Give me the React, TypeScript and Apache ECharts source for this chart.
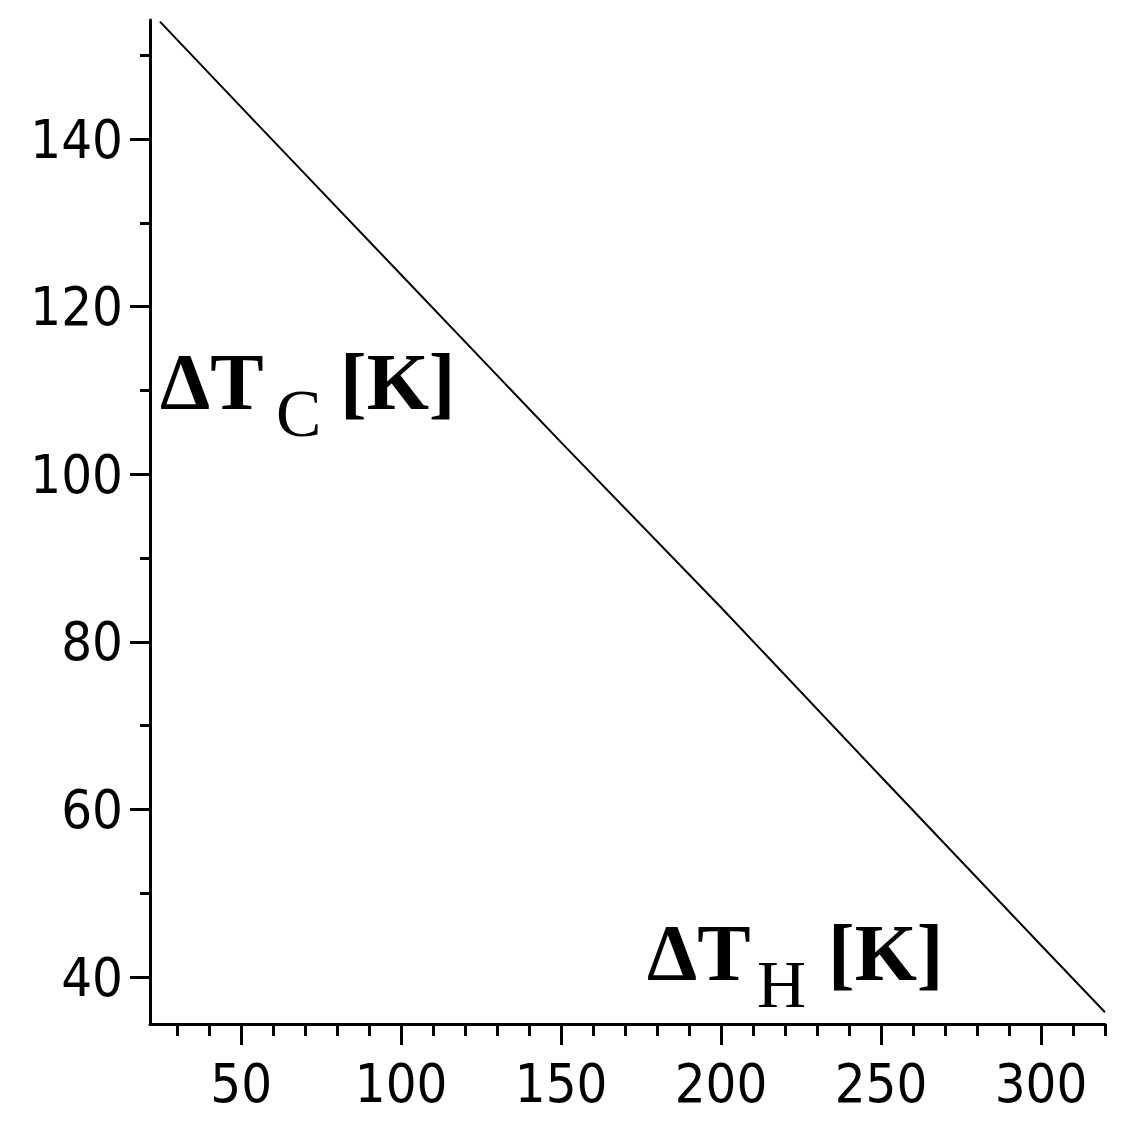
import React, { useEffect, useRef } from "react";
import * as echarts from "echarts";

const deltaTH = [24.6, 50, 100, 150, 200, 250, 300, 320];
const deltaTC = [154, 143.8, 123.8, 103.8, 84.1, 63.9, 43.8, 35.8];

const xMajorTicks = [50, 100, 150, 200, 250, 300];
const xMinorTicks = [30, 40, 60, 70, 80, 90, 110, 120, 130, 140, 160, 170, 180, 190, 210, 220, 230, 240, 260, 270, 280, 290, 310, 320];
const yMajorTicks = [40, 60, 80, 100, 120, 140];
const yMinorTicks = [50, 70, 90, 110, 130, 150];

const X_MIN = 21.5;
const X_MAX = 320;
const Y_MIN = 34.4;
const Y_MAX = 154.2;

const tickFont = '"Liberation Sans Narrow", "DejaVu Sans Condensed", "Liberation Sans", sans-serif';
const serif = '"Liberation Serif", "DejaVu Serif", serif';

export default function App() {
  const ref = useRef<HTMLDivElement>(null);
  useEffect(() => {
    if (!ref.current) return;
    const chart = echarts.init(ref.current, null, { renderer: "svg" });
    const axisLine = { show: true, lineStyle: { color: "#000", width: 3 } };
    const labelStyle = { color: "#000", fontFamily: tickFont, fontSize: 54 };
    chart.setOption({
      animation: false,
      backgroundColor: "#fff",
      grid: { left: 150, top: 20, right: 30, bottom: 102, containLabel: false },
      xAxis: [
        {
          type: "value",
          min: X_MIN,
          max: X_MAX,
          position: "bottom",
          axisLine,
          splitLine: { show: false },
          axisTick: { show: true, customValues: xMajorTicks, length: 21, lineStyle: { color: "#000", width: 3 } },
          axisLabel: { show: true, customValues: xMajorTicks, margin: 32, ...labelStyle },
        },
        {
          type: "value",
          min: X_MIN,
          max: X_MAX,
          position: "bottom",
          axisLine: { show: false },
          splitLine: { show: false },
          axisTick: { show: true, customValues: xMinorTicks, length: 12, lineStyle: { color: "#000", width: 3 } },
          axisLabel: { show: false },
        },
      ],
      yAxis: [
        {
          type: "value",
          min: Y_MIN,
          max: Y_MAX,
          position: "left",
          axisLine,
          splitLine: { show: false },
          axisTick: { show: true, customValues: yMajorTicks, length: 20, lineStyle: { color: "#000", width: 3 } },
          axisLabel: { show: true, customValues: yMajorTicks, margin: 27, ...labelStyle },
        },
        {
          type: "value",
          min: Y_MIN,
          max: Y_MAX,
          position: "left",
          axisLine: { show: false },
          splitLine: { show: false },
          axisTick: { show: true, customValues: yMinorTicks, length: 10, lineStyle: { color: "#000", width: 3 } },
          axisLabel: { show: false },
        },
      ],
      series: [
        {
          type: "line",
          xAxisIndex: 0,
          yAxisIndex: 0,
          data: deltaTH.map((x, i) => [x, deltaTC[i]]),
          showSymbol: false,
          symbol: "none",
          lineStyle: { color: "#000", width: 2 },
        },
      ],
      graphic: [
        { type: "text", left: 160, top: 382 - 40, style: { text: "ΔT", fontFamily: serif, fontWeight: "bold", fontSize: 80, fill: "#000" } },
        { type: "text", left: 276, top: 414 - 35, style: { text: "C", fontFamily: serif, fontSize: 68, fill: "#000" } },
        { type: "text", left: 340, top: 382 - 40, style: { text: "[K]", fontFamily: serif, fontWeight: "bold", fontSize: 80, fill: "#000" } },
        { type: "text", left: 647, top: 953 - 40, style: { text: "ΔT", fontFamily: serif, fontWeight: "bold", fontSize: 80, fill: "#000" } },
        { type: "text", left: 757, top: 985 - 35, style: { text: "H", fontFamily: serif, fontSize: 68, fill: "#000" } },
        { type: "text", left: 828, top: 953 - 40, style: { text: "[K]", fontFamily: serif, fontWeight: "bold", fontSize: 80, fill: "#000" } },
      ],
    });
    return () => chart.dispose();
  }, []);
  return (
    <div
      ref={ref}
      style={{ position: "absolute", left: 0, top: 0, width: 1135, height: 1126, background: "#fff" }}
    />
  );
}
